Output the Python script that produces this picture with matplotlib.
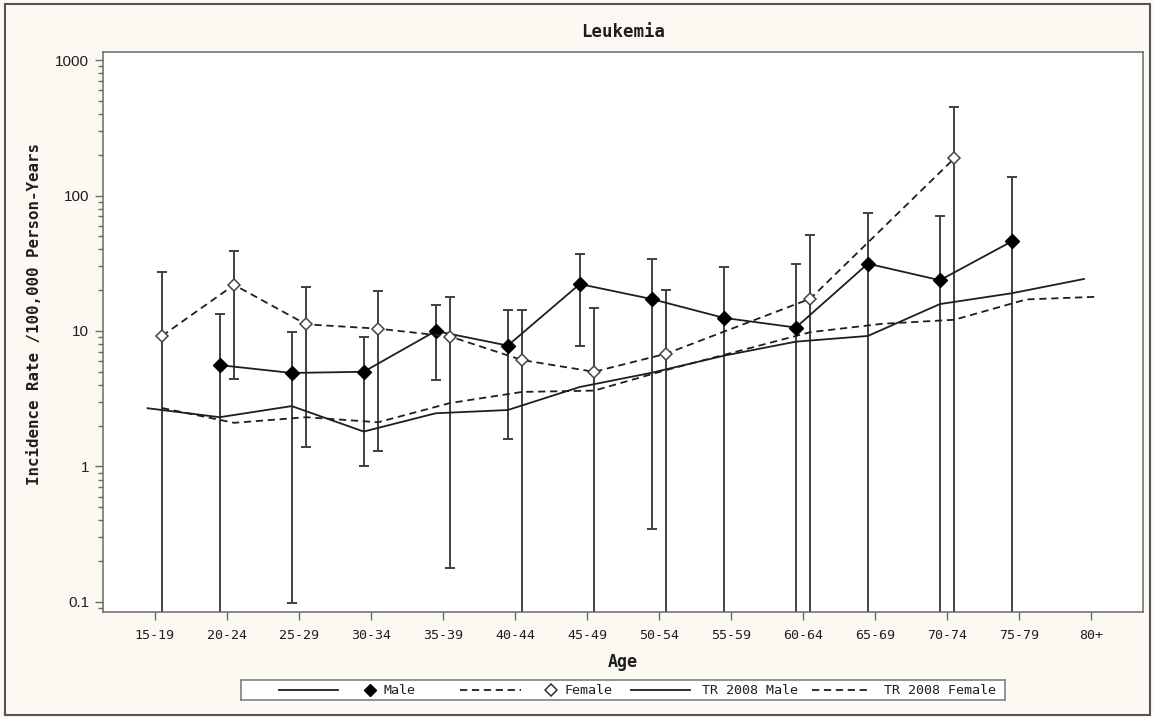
import numpy as np
import matplotlib
matplotlib.use("Agg")
import matplotlib.pyplot as plt
from matplotlib.lines import Line2D
from matplotlib.patches import Rectangle
from matplotlib.ticker import LogLocator, FixedLocator, FixedFormatter, NullFormatter

# ---- data -------------------------------------------------------------
age_groups = ["15-19", "20-24", "25-29", "30-34", "35-39", "40-44", "45-49",
              "50-54", "55-59", "60-64", "65-69", "70-74", "75-79", "80+"]

nan = np.nan
male_rate = [nan, 5.6, 4.9, 5.0, 10.0, 7.8, 22.2, 17.2, 12.5, 10.6, 31.4, 23.7, 45.9, nan]
male_upper = [nan, 13.3, 9.8, 9.0, 15.6, 14.2, 37.0, 34.2, 29.5, 31.1, 74.3, 70.2, 137.0, nan]
male_lower = [nan, 0.0, 0.098, 1.0, 4.33, 1.59, 7.75, 0.346, 0.0, 0.0, 0.0, 0.0, 0.0, nan]

female_rate = [9.2, 21.9, 11.2, 10.4, 9.1, 6.1, 5.0, 6.8, nan, 17.3, nan, 188.0, nan, nan]
female_upper = [27.4, 39.1, 21.1, 19.7, 17.7, 14.4, 14.9, 20.2, nan, 51.1, nan, 450.0, nan, nan]
female_lower = [0.0, 4.4, 1.39, 1.29, 0.179, 0.0, 0.0, 0.0, nan, 0.0, nan, 0.0, nan, nan]

tr_male = [2.69, 2.31, 2.79, 1.81, 2.47, 2.61, 3.86, 4.92, 6.57, 8.34, 9.19, 15.8, 19.0, 24.2]
tr_female = [2.70, 2.10, 2.31, 2.12, 2.94, 3.55, 3.63, 5.15, 7.1, 9.8, 11.3, 12.1, 17.1, 17.9]

y_ticks = [0.1, 1, 10, 100, 1000]
y_tick_labels = ["0.1", "1", "10", "100", "1000"]

# ---- layout -----------------------------------------------------------
W, H = 1153, 717
BG = "#fbf9f1"
INK = "#1e1e1e"
BAR = "#404040"
SPINE = "#6a6a6a"
MONO = "DejaVu Sans Mono"
SANS = "Liberation Sans"
DASH = (0, (4, 2.6))

fig = plt.figure(figsize=(W / 100, H / 100), dpi=100, facecolor=BG)
ax = fig.add_axes([103 / W, 1 - 612 / H, 1040 / W, 560 / H])
ax.set_facecolor("white")

ymin, ymax = 0.0843, 1146
x = np.arange(len(age_groups))
shift = 0.1


def ci_bars(xpos, rate, lo, hi):
    rate = np.asarray(rate, float)
    lo = np.asarray(lo, float)
    hi = np.asarray(hi, float)
    ok = ~np.isnan(rate)
    bottom = np.where(lo > ymin, lo, ymin)
    ax.vlines(xpos[ok], bottom[ok], hi[ok], color=BAR, lw=1.4, zorder=2)
    ax.plot(xpos[ok], hi[ok], ls="none", marker="_", ms=7.5, mew=1.4,
            color=BAR, zorder=2)
    capped = ok & (lo > ymin)
    ax.plot(xpos[capped], lo[capped], ls="none", marker="_", ms=7.5, mew=1.4,
            color=BAR, zorder=2)


xm = x - shift
xf = x + shift

# reference rates (TR 2008)
ax.plot(xm, tr_male, color=INK, lw=1.3, zorder=3)
ax.plot(xf, tr_female, color=INK, lw=1.3, ls=DASH, zorder=3)

# confidence intervals
ci_bars(xm, male_rate, male_lower, male_upper)
ci_bars(xf, female_rate, female_lower, female_upper)

# observed rates
mr = np.asarray(male_rate, float)
fr = np.asarray(female_rate, float)
mk = ~np.isnan(mr)
fk = ~np.isnan(fr)
ax.plot(xm[mk], mr[mk], color=INK, lw=1.3, marker="D", ms=6.8,
        mfc="black", mec="black", zorder=4)
ax.plot(xf[fk], fr[fk], color=INK, lw=1.3, ls=DASH, marker="D", ms=5.8,
        mfc="white", mec="#444444", mew=1.1, zorder=4)

# axes styling
ax.set_yscale("log")
ax.set_ylim(ymin, ymax)
ax.set_xlim(-0.72, len(age_groups) - 1 + 0.72)
ax.set_xticks(x)
ax.set_xticklabels(age_groups, family=MONO, fontsize=9.6, color=INK)
ax.yaxis.set_major_locator(FixedLocator(y_ticks))
ax.yaxis.set_major_formatter(FixedFormatter(y_tick_labels))
ax.yaxis.set_minor_locator(LogLocator(base=10, subs=np.arange(2, 10)))
ax.yaxis.set_minor_formatter(NullFormatter())
for lab in ax.get_yticklabels():
    lab.set_family(SANS)
    lab.set_fontsize(11)
    lab.set_color(INK)
ax.tick_params(axis="x", which="major", length=6, width=1, color=SPINE, pad=6)
ax.tick_params(axis="y", which="major", length=6, width=1, color=SPINE, pad=4)
ax.tick_params(axis="y", which="minor", length=3.5, width=1, color=SPINE)
for s in ax.spines.values():
    s.set_color(SPINE)
    s.set_linewidth(1.1)

fig.text(623 / W, 1 - 32 / H, "Leukemia", family=MONO, fontweight="bold",
         fontsize=12.5, color=INK, ha="center", va="center")
fig.text(623 / W, 1 - 662 / H, "Age", family=MONO, fontweight="bold",
         fontsize=12, color=INK, ha="center", va="center")
fig.text(35 / W, 1 - 314 / H, "Incidence Rate /100,000 Person-Years",
         family=MONO, fontweight="bold", fontsize=11.3, color=INK,
         rotation=90, ha="center", va="center")

# ---- legend box -------------------------------------------------------
lg = fig.add_axes([241 / W, 1 - 700 / H, (1005 - 241) / W, 20 / H])
lg.set_xlim(241, 1005)
lg.set_ylim(0, 1)
lg.set_xticks([])
lg.set_yticks([])
lg.set_facecolor("white")
for s in lg.spines.values():
    s.set_color("#777777")
    s.set_linewidth(1.1)

lg.add_line(Line2D([279, 338], [0.5, 0.5], color=INK, lw=1.3))
lg.plot([370], [0.5], marker="D", ms=6, mfc="black", mec="black")
lg.text(384, 0.5, "Male", family=MONO, fontsize=9.6, va="center", color=INK)

lg.add_line(Line2D([460, 521], [0.5, 0.5], color=INK, lw=1.3, ls=DASH))
lg.plot([551], [0.5], marker="D", ms=5.8, mfc="white", mec="#333333", mew=1.1)
lg.text(565, 0.5, "Female", family=MONO, fontsize=9.6, va="center", color=INK)

lg.add_line(Line2D([631, 690], [0.5, 0.5], color=INK, lw=1.3))
lg.text(702, 0.5, "TR 2008 Male", family=MONO, fontsize=9.6, va="center", color=INK)

lg.add_line(Line2D([812, 868], [0.5, 0.5], color=INK, lw=1.3, ls=DASH))
lg.text(884, 0.5, "TR 2008 Female", family=MONO, fontsize=9.6, va="center", color=INK)

# outer frame
fig.add_artist(Rectangle((5 / W, 1 - 715 / H), 1145 / W, 711 / H,
                         transform=fig.transFigure, fill=False,
                         edgecolor="#555555", lw=1.5))

fig.savefig("out.png", dpi=100, facecolor=BG)
